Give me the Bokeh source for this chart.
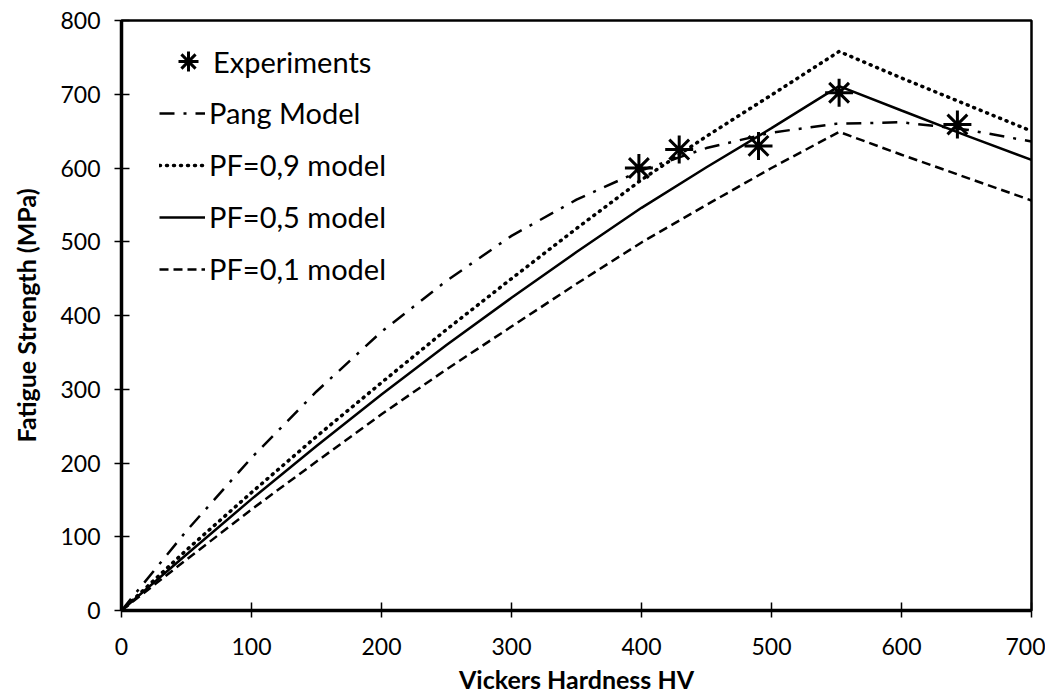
from bokeh.plotting import figure
from bokeh.models import Legend, LegendItem, FixedTicker, Range1d
from bokeh.embed import file_html
from bokeh.resources import INLINE

# Experimental data
exp_hv = [398, 429, 490, 552, 643]
exp_sigma = [600, 625, 630, 702, 659]

# Pang model
pang_hv = [0, 50, 100, 150, 200, 250, 300, 350, 400, 450, 500, 550, 600, 650, 700]
pang_sigma = [0, 108, 207, 297, 378, 447, 508, 557, 597, 627, 648, 660, 662, 652, 636]

# PF models
pf_hv = [0, 50, 100, 150, 200, 250, 300, 350, 400, 450, 500, 552, 600, 650, 700]
pf09_sigma = [0, 82, 160, 236, 309, 381, 450, 518, 584, 643, 699, 758, 722, 686, 650]
pf05_sigma = [0, 76, 151, 223, 293, 360, 424, 486, 546, 601, 654, 711, 678, 644, 611]
pf01_sigma = [0, 69, 137, 202, 266, 327, 385, 443, 499, 550, 600, 649, 618, 587, 556]

x_ticks = [0, 100, 200, 300, 400, 500, 600, 700]
y_ticks = [0, 100, 200, 300, 400, 500, 600, 700, 800]

FONT = "Lato"

p = figure(frame_width=910, frame_height=590,
           x_range=Range1d(0, 700), y_range=Range1d(0, 800),
           output_backend="svg", toolbar_location=None,
           min_border_left=121, min_border_top=20,
           min_border_right=14, min_border_bottom=60)

p.background_fill_color = "white"
p.border_fill_color = "white"
p.outline_line_color = "black"
p.outline_line_width = 2.5
p.xgrid.visible = False
p.ygrid.visible = False

for ax, ticks in ((p.xaxis, x_ticks), (p.yaxis, y_ticks)):
    ax.ticker = FixedTicker(ticks=ticks)
    ax.axis_line_width = 3.5
    ax.axis_line_color = "black"
    ax.major_tick_in = 8
    ax.major_tick_out = 7
    ax.major_tick_line_width = 1.5
    ax.major_tick_line_color = "black"
    ax.minor_tick_line_color = None
    ax.major_label_text_font = FONT
    ax.major_label_text_font_size = "23px"
    ax.major_label_text_color = "black"
    ax.axis_label_text_font = FONT
    ax.axis_label_text_font_style = "bold"
    ax.axis_label_text_font_size = "25px"
    ax.axis_label_text_color = "black"

p.xaxis.axis_label = "Vickers Hardness HV"
p.yaxis.axis_label = "Fatigue Strength (MPa)"
p.xaxis.major_label_standoff = 20
p.yaxis.major_label_standoff = 14
p.xaxis.axis_label_standoff = 6
p.yaxis.axis_label_standoff = 16

r_pang = p.line(pang_hv, pang_sigma, line_color="black", line_width=2.5,
                line_dash="15 9 3 9")
r_pf09 = p.line(pf_hv, pf09_sigma, line_color="black", line_width=3.5,
                line_dash="1 6", line_cap="round")
r_pf05 = p.line(pf_hv, pf05_sigma, line_color="black", line_width=2.5)
r_pf01 = p.line(pf_hv, pf01_sigma, line_color="black", line_width=2.5,
                line_dash="9 5")
r_exp = p.scatter(exp_hv, exp_sigma, marker="asterisk", size=28,
                  line_color="black", line_width=3)


def style_legend(lg):
    lg.padding = 0
    lg.margin = 0
    lg.border_line_alpha = 0
    lg.background_fill_alpha = 0
    lg.label_text_font = FONT
    lg.label_text_font_size = "29px"
    lg.label_text_color = "black"


legend_exp = Legend(items=[LegendItem(label="Experiments", renderers=[r_exp])],
                    location=(42, 519))
legend_exp.glyph_width = 50
legend_exp.glyph_height = 60
legend_exp.label_height = 30
legend_exp.label_standoff = 0
style_legend(legend_exp)

legend = Legend(items=[
    LegendItem(label="Pang Model", renderers=[r_pang]),
    LegendItem(label="PF=0,9 model", renderers=[r_pf09]),
    LegendItem(label="PF=0,5 model", renderers=[r_pf05]),
    LegendItem(label="PF=0,1 model", renderers=[r_pf01]),
], location=(38, 324))
legend.glyph_width = 46
legend.glyph_height = 30
legend.label_height = 30
legend.label_standoff = 4
legend.spacing = 17
style_legend(legend)

p.add_layout(legend_exp, "center")
p.add_layout(legend, "center")

open("out.html", "w").write(file_html(p, INLINE))
